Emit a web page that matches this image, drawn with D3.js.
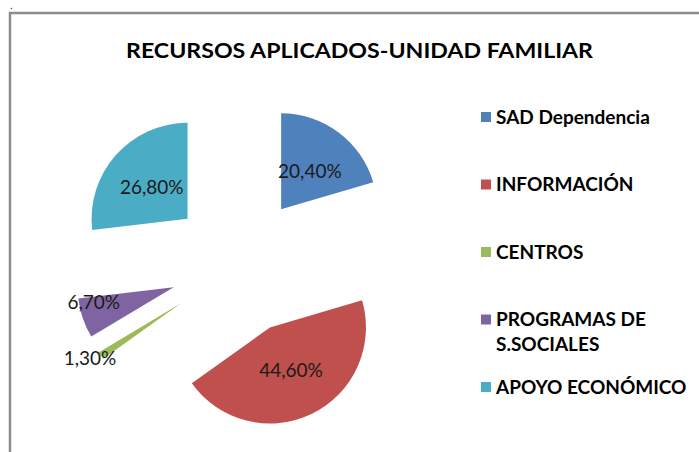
<!DOCTYPE html>
<html>
<head>
<meta charset="utf-8">
<script src="https://cdn.jsdelivr.net/npm/d3@7"></script>
<style>
  html, body { margin: 0; padding: 0; background: #fff; }
  svg { display: block; }
</style>
</head>
<body>
<div id="chart"></div>
<script>
// Data
const categories = ['SAD Dependencia', 'INFORMACIÓN', 'CENTROS', 'PROGRAMAS DE S.SOCIALES', 'APOYO ECONÓMICO'];
const legendLines = [['SAD Dependencia'], ['INFORMACIÓN'], ['CENTROS'], ['PROGRAMAS DE', 'S.SOCIALES'], ['APOYO ECONÓMICO']];
const percents = [20.4, 44.6, 1.3, 6.7, 26.8];
const labels = ['20,40%', '44,60%', '1,30%', '6,70%', '26,80%'];
const colors = ['#4F81BD', '#C0504D', '#9BBB59', '#8064A2', '#4BACC6'];

const width = 699, height = 452;
const cx = 239.5, cy = 265;      // pie centre
const radius = 96;
const explode = 69.5;           // every slice is pulled out by this much

// small slices get their label outside, nudged next to the tip
const outsideNudge = { 'CENTROS': [-11, 3], 'PROGRAMAS DE S.SOCIALES': [11, -16] };

const svg = d3.select('#chart')
  .append('svg')
  .attr('width', width)
  .attr('height', height);

// Frame (top and left edges visible in the screenshot)
svg.append('path')
  .attr('d', `M10,${height} V13 H${width}`)
  .attr('fill', 'none')
  .attr('stroke', '#8c8c8c')
  .attr('stroke-width', 2.5);

svg.append('text')
  .attr('x', 10).attr('y', 9)
  .style('font', '10px "Liberation Sans", sans-serif')
  .attr('fill', '#000')
  .text('.');

// Title
svg.append('text')
  .attr('x', 359.5)
  .attr('y', 58)
  .attr('text-anchor', 'middle')
  .attr('textLength', 467)
  .attr('lengthAdjust', 'spacingAndGlyphs')
  .style('font-family', 'Lato, "Open Sans", sans-serif')
  .style('font-weight', 'bold')
  .style('font-size', '21px')
  .attr('fill', '#000')
  .text('RECURSOS APLICADOS-UNIDAD FAMILIAR');

const pie = d3.pie().sort(null).value(d => d.value);
const arcs = pie(categories.map((c, i) => ({ name: c, value: percents[i], label: labels[i], color: colors[i] })));

const arc = d3.arc().innerRadius(0).outerRadius(radius);

const mid = d => (d.startAngle + d.endAngle) / 2;
const shift = (d, r) => [Math.sin(mid(d)) * r, -Math.cos(mid(d)) * r];

const g = svg.append('g').attr('transform', `translate(${cx},${cy})`);

g.selectAll('path.slice')
  .data(arcs)
  .enter()
  .append('path')
  .attr('class', 'slice')
  .attr('transform', d => `translate(${shift(d, explode)})`)
  .attr('d', arc)
  .attr('fill', d => d.data.color);

// Data labels
g.selectAll('text.lbl')
  .data(arcs)
  .enter()
  .append('text')
  .attr('class', 'lbl')
  .attr('transform', d => {
    const nudge = outsideNudge[d.data.name];
    if (nudge) {
      const p = shift(d, explode + radius);
      return `translate(${p[0] + nudge[0]},${p[1] + nudge[1]})`;
    }
    const p = shift(d, explode + radius * 0.5);
    return `translate(${p})`;
  })
  .attr('text-anchor', 'middle')
  .attr('dy', '0.36em')
  .style('font-family', 'Lato, "Open Sans", sans-serif')
  .style('font-size', '19px')
  .attr('fill', '#1a1a1a')
  .text(d => d.data.label);

// Legend
const legendY = d3.scaleLinear().domain([0, 1]).range([117, 184.5]);

const legend = svg.append('g')
  .selectAll('g')
  .data(legendLines)
  .enter()
  .append('g')
  .attr('transform', (d, i) => `translate(481,${legendY(i)})`);

legend.append('rect')
  .attr('x', 0)
  .attr('y', -5)
  .attr('width', 10)
  .attr('height', 10)
  .attr('fill', (d, i) => colors[i]);

legend.each(function (lines) {
  const t = d3.select(this).append('text')
    .attr('x', 15)
    .attr('y', 0)
    .style('font-family', 'Lato, "Open Sans", sans-serif')
    .style('font-weight', 'bold')
    .style('font-size', '19px')
    .attr('fill', '#000');
  lines.forEach((line, k) => {
    t.append('tspan')
      .attr('x', 15)
      .attr('dy', k === 0 ? '0.36em' : 25)
      .text(line);
  });
});
</script>
</body>
</html>
